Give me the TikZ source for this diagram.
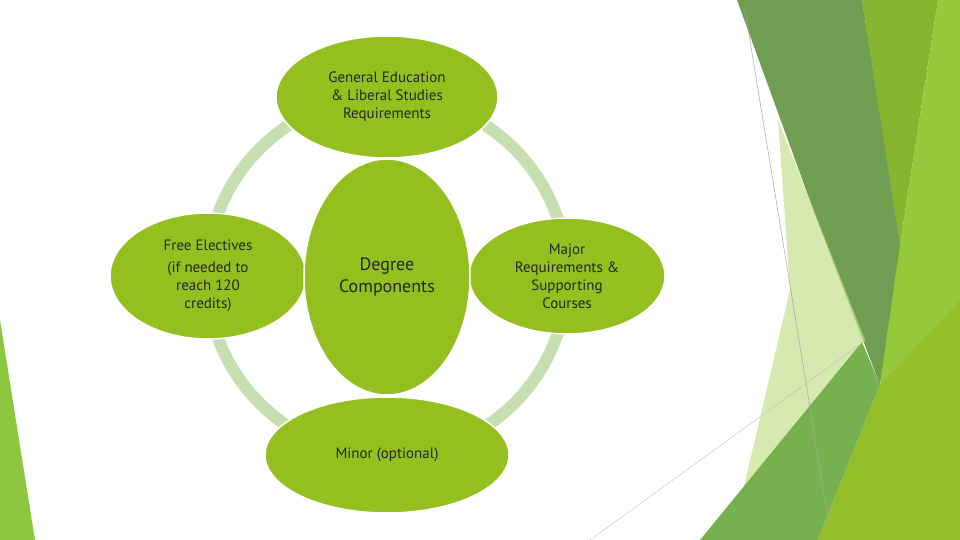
\documentclass[tikz,border=0pt]{standalone}
\usepackage{fontspec}
\setmainfont{PT Sans}
\definecolor{ell}{HTML}{93C01F}
\definecolor{ring}{HTML}{C5DFB0}
\begin{document}
\begin{tikzpicture}[x=1pt,y=-1pt,
  ellnode/.style={ellipse,fill=ell,draw=white,line width=1.5pt,align=center,font=\fontsize{15}{18}\selectfont,text=black!85,inner sep=0pt}]
\useasboundingbox (0,0) rectangle (960,540);
\usetikzlibrary{shapes.geometric}
% decoration
\fill[color={rgb,255:red,86;green,141;blue,53},opacity=0.85] (737,0)--(862,0)--(902,250)--(880,385)--(817,220)--cycle;
\fill[color={rgb,255:red,196;green,223;blue,140},opacity=0.7] (778,120)--(865,340)--(742,495)--(790,290)--cycle;
\fill[color={rgb,255:red,133;green,181;blue,46}] (862,0)--(938,0)--(900,245)--cycle;
\fill[color={rgb,255:red,150;green,200;blue,60}] (938,0)--(960,0)--(960,540)--(880,540)--(875,420)--(900,245)--cycle;
\fill[color={rgb,255:red,112;green,172;blue,70},opacity=0.95] (700,540)--(862,342)--(880,385)--(818,540)--cycle;
\fill[color={rgb,255:red,147;green,192;blue,42}] (818,540)--(880,385)--(960,300)--(960,540)--cycle;
\draw[gray!70,line width=0.5pt] (745,10)--(830,530);
\draw[gray!50,line width=0.4pt] (590,540)--(862,343);
\fill[color={rgb,255:red,141;green,198;blue,63}] (0,320)--(0,540)--(35,540)--cycle;
% ring
\draw[ring,line width=12pt] (387,276) circle (180);
% nodes
\node[ellnode,minimum width=244pt,minimum height=116pt] (bot) at (387,455) {Minor (optional)};
\node[ellnode,minimum width=222pt,minimum height=122pt] (top) at (387,97) {General Education\\\& Liberal Studies\\Requirements};
\node[ellnode,minimum width=196pt,minimum height=126pt] (left) at (208,276) {Free Electives\\[4pt](if needed to\\reach 120\\credits)};
\node[ellnode,minimum width=196pt,minimum height=116pt] (right) at (567,276) {Major\\Requirements \&\\Supporting\\Courses};
\node[ellnode,minimum width=166pt,minimum height=236pt,font=\fontsize{18}{22}\selectfont] (mid) at (387,277) {Degree\\Components};
\end{tikzpicture}
\end{document}
